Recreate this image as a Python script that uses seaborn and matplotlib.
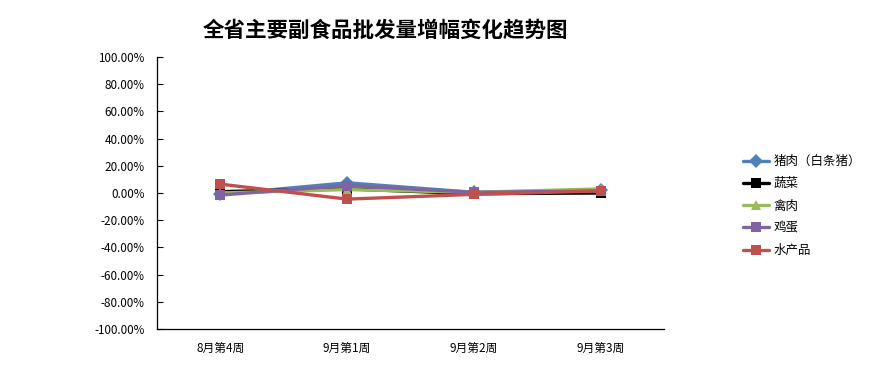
import matplotlib
matplotlib.use("Agg")
import matplotlib.pyplot as plt
import seaborn as sns
import pandas as pd
import numpy as np
from matplotlib.ticker import FuncFormatter, FixedLocator

categories = ["8月第4周", "9月第1周", "9月第2周", "9月第3周"]
series_names = ["猪肉（白条猪）", "蔬菜", "禽肉", "鸡蛋", "水产品"]
pork = [-1.0, 7.5, 0.5, 2.0]
veg = [1.0, 3.0, -0.5, 0.0]
poultry = [0.0, 2.5, 0.5, 3.0]
eggs = [-1.5, 5.5, 0.5, 1.5]
aquatic = [6.5, -4.5, -1.0, 1.5]
values = [pork, veg, poultry, eggs, aquatic]

colors = ["#4F81BD", "#000000", "#9BBB59", "#8064A2", "#C0504D"]
markers = ["D", "s", "^", "s", "s"]

rows = []
for name, vals in zip(series_names, values):
    for i, (c, v) in enumerate(zip(categories, vals)):
        rows.append({"pos": i, "周": c, "series": name, "value": v})
df = pd.DataFrame(rows)

sns.set_theme(style="white")
plt.rcParams["font.family"] = ["Noto Sans CJK SC", "DejaVu Sans"]
plt.rcParams["text.color"] = "black"
plt.rcParams["xtick.color"] = "black"
plt.rcParams["ytick.color"] = "black"

fig = plt.figure(figsize=(8.8, 3.67), dpi=100)
ax = fig.add_axes([157/880, 1-329/367, (664-157)/880, (329-57)/367])

sns.lineplot(data=df, x="pos", y="value", hue="series", style="series",
             hue_order=series_names, style_order=series_names,
             palette=colors, markers=dict(zip(series_names, markers)),
             dashes=False, linewidth=2.4, markersize=7, markeredgewidth=0,
             ax=ax, legend=True)

ax.set_xlim(-0.5, 3.5)
ax.set_ylim(-100, 100)
ax.set_yticks(np.arange(-100, 101, 20))
ax.yaxis.set_major_formatter(FuncFormatter(lambda v, p: f"{v:.2f}%"))
ax.set_xticks(range(len(categories)))
ax.set_xticklabels(categories)
ax.xaxis.set_minor_locator(FixedLocator(np.arange(-0.5, 3.6, 1.0)))
ax.tick_params(axis="x", which="major", length=0, labelsize=8.5, pad=9)
ax.tick_params(axis="x", which="minor", direction="in", length=4, width=0.8, color="black")
ax.tick_params(axis="y", direction="in", length=4, width=0.8, color="black", labelsize=8.4, left=True, pad=9)
ax.set_xlabel("")
ax.set_ylabel("")
for s in ["top", "right"]:
    ax.spines[s].set_visible(False)
for s in ["left", "bottom"]:
    ax.spines[s].set_color("black")
    ax.spines[s].set_linewidth(0.9)

leg = ax.legend(loc="upper left", bbox_to_anchor=(738/880, 1-150/367), bbox_transform=fig.transFigure,
                frameon=False, fontsize=9, handlelength=2.1, labelspacing=0.74, borderaxespad=0,
                handletextpad=0.35)

fig.text(385/880, 1-30/367, "全省主要副食品批发量增幅变化趋势图", ha="center", va="center",
         fontsize=15.5, fontweight="bold", color="black")

fig.savefig("out.png", dpi=100)
